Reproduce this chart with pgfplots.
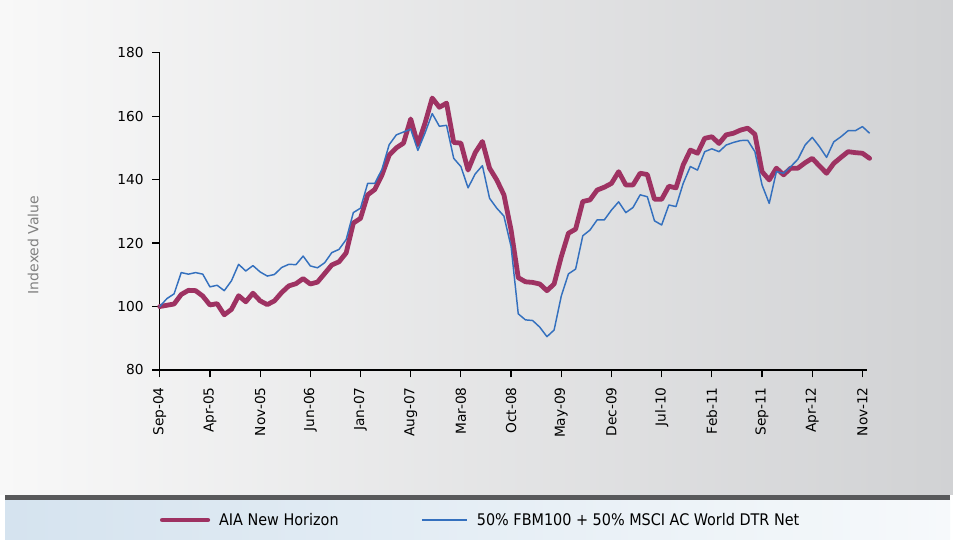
\documentclass[border=0pt]{standalone}
\usepackage{pgfplots}
\pgfplotsset{compat=1.18}
\usepackage{pgfplotstable}
\usepackage{fontspec}
\setmainfont{DejaVu Sans}
\newfontfamily\condfont{DejaVu Sans Condensed}
\definecolor{aia}{RGB}{158,50,98}
\definecolor{bench}{RGB}{52,112,190}
\definecolor{bgleft}{RGB}{248,248,248}
\definecolor{bgright}{RGB}{209,210,212}
\definecolor{band}{RGB}{88,89,91}
\definecolor{legleft}{RGB}{213,227,239}
\definecolor{legright}{RGB}{246,249,251}

\pgfplotstableread{
m aia bench
0 100 100
1 100.4 102.5
2 100.8 104
3 103.8 110.7
4 105.1 110.2
5 105 110.7
6 103.3 110.2
7 100.5 106.2
8 100.9 106.7
9 97.4 105
10 99.1 108.1
11 103.4 113.3
12 101.5 111.2
13 104.2 112.9
14 101.8 110.9
15 100.6 109.6
16 101.8 110.1
17 104.4 112.3
18 106.5 113.3
19 107.2 113.2
20 108.8 115.9
21 107.1 112.8
22 107.7 112.2
23 110.4 113.8
24 113.1 117
25 114.1 118
26 116.9 121.1
27 126.3 129.6
28 127.8 131
29 135.2 138.8
30 136.9 138.8
31 141.5 143.3
32 147.7 151
33 150 154.1
34 151.5 155
35 159.1 155.9
36 151 149.2
37 157.8 154.7
38 165.7 160.8
39 162.8 156.8
40 164.1 157.1
41 151.7 146.7
42 151.5 144.1
43 143 137.4
44 148.5 141.8
45 152 144.4
46 143.6 134.1
47 139.9 131
48 135.2 128.5
49 124.1 118.9
50 109.1 97.7
51 107.8 95.8
52 107.6 95.6
53 107.1 93.5
54 105 90.5
55 107.1 92.6
56 115.7 103.3
57 123.1 110.3
58 124.4 111.8
59 133.1 122.3
60 133.6 124.1
61 136.7 127.3
62 137.6 127.3
63 138.8 130.4
64 142.5 133
65 138.3 129.6
66 138.3 131.2
67 142 135.2
68 141.6 134.6
69 133.8 127
70 133.8 125.7
71 137.9 132
72 137.4 131.5
73 144.6 138.8
74 149.3 144.1
75 148.3 143
76 153 148.8
77 153.5 149.7
78 151.4 148.8
79 154.1 150.9
80 154.6 151.7
81 155.6 152.3
82 156.2 152.4
83 154.3 148.8
84 142.5 138.3
85 139.9 132.5
86 143.6 142.5
87 141.5 142
88 143.6 144.1
89 143.6 146.4
90 145.3 150.9
91 146.7 153.3
92 144.3 150.4
93 142 147
94 145.1 151.9
95 147 153.5
96 148.8 155.4
97 148.5 155.4
98 148.3 156.7
99 146.7 154.6
}\datatable

\begin{document}
\begin{tikzpicture}
\useasboundingbox (0,0) rectangle (714.75pt,404.25pt);
\fill[white] (0,0) rectangle (714.75pt,404.25pt);
\shade[left color=bgleft, right color=bgright] (0,33pt) rectangle (714.75pt,404.25pt);
\fill[band] (3.75pt,28.5pt) rectangle (712.5pt,33pt);
\shade[left color=legleft, right color=legright] (3.75pt,0pt) rectangle (712.5pt,28.5pt);
\begin{axis}[
  at={(119.8pt,126.75pt)}, anchor=south west,
  scale only axis, width=530.25pt, height=238pt,
  xmin=0, xmax=98.6, ymin=80, ymax=180,
  clip=false,
  axis x line*=bottom, axis y line*=left,
  axis line style={black, line width=1pt},
  tick style={black, line width=0.9pt},
  tick align=outside, major tick length=5.5pt,
  xtick={0,7,...,98},
  xticklabels={Sep-04,Apr-05,Nov-05,Jun-06,Jan-07,Aug-07,Mar-08,Oct-08,May-09,Dec-09,Jul-10,Feb-11,Sep-11,Apr-12,Nov-12},
  ytick={80,100,...,180},
  /pgf/number format/assume math mode=true,
  ticklabel style={font=\fontsize{10.3}{12}\selectfont},
  xticklabel style={rotate=90, anchor=east},
  xticklabel shift=4pt,
  yticklabel style={xshift=-3pt},
  ylabel={Indexed Value},
  every axis y label/.style={at={(axis description cs:-0.179,0.394)}, rotate=90, anchor=center, font=\fontsize{10.5}{12}\selectfont, text=gray},
  legend columns=2,
  legend style={at={(axis description cs:0,-0.4727)}, anchor=west, draw=none, fill=none, inner sep=0pt,
    nodes={inner sep=0pt, font=\condfont\fontsize{12}{14}\selectfont},
    /tikz/every odd column/.append style={column sep=6.75pt}},
  legend image code/.code={\draw[#1] (0pt,0pt) -- (34pt,0pt);},
]
\addplot[aia, line width=3.6pt, line join=round, line cap=round] table[x=m, y=aia] {\datatable};
\addlegendentry{\makebox[151.5pt][l]{AIA New Horizon}}
\addplot[bench, line width=1.1pt, line join=round] table[x=m, y=bench] {\datatable};
\addlegendentry{50\% FBM100 + 50\% MSCI AC World DTR Net}
\end{axis}
\end{tikzpicture}
\end{document}
